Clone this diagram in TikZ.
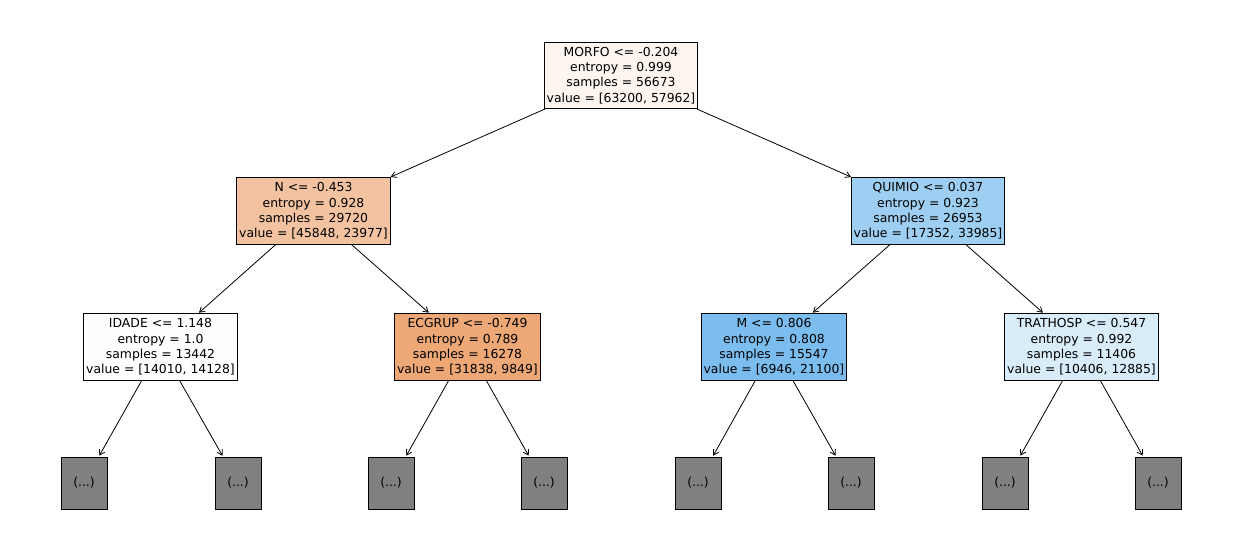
\documentclass[tikz,border=0pt]{standalone}
\usepackage{fontspec}
\setmainfont{DejaVu Sans}
\usetikzlibrary{arrows.meta}
\definecolor{cRoot}{RGB}{253,245,239}
\definecolor{cN}{RGB}{243,195,161}
\definecolor{cQ}{RGB}{158,207,242}
\definecolor{cI}{RGB}{253,254,255}
\definecolor{cE}{RGB}{237,168,118}
\definecolor{cM}{RGB}{122,189,238}
\definecolor{cT}{RGB}{217,236,250}
\definecolor{cLeaf}{RGB}{128,128,128}
\tikzset{
  tnode/.style={draw=black, line width=0.8pt, align=center, inner xsep=2.5pt, inner ysep=5pt,
    font=\fontsize{12.4}{15.2}\selectfont},
  leaf/.style={draw=black, line width=0.8pt, fill=cLeaf, minimum width=46pt, minimum height=52pt,
    inner sep=0pt, font=\fontsize{12.4}{15.2}\selectfont},
  edge/.style={draw=black, line width=0.8pt, -{Straight Barb[length=5pt,width=6pt]}, shorten >=1pt}
}
\begin{document}
\begin{tikzpicture}[x=1pt,y=-1pt]
\useasboundingbox (0,0) rectangle (1242,558);
\node[tnode, fill=cRoot] (root) at (621,75.5) {MORFO <= -0.204\\entropy = 0.999\\samples = 56673\\value = [63200, 57962]};
\node[tnode, fill=cN] (n) at (313.5,211) {N <= -0.453\\entropy = 0.928\\samples = 29720\\value = [45848, 23977]};
\node[tnode, fill=cQ] (q) at (928,211) {QUIMIO <= 0.037\\entropy = 0.923\\samples = 26953\\value = [17352, 33985]};
\node[tnode, fill=cI] (i) at (160.5,347) {IDADE <= 1.148\\entropy = 1.0\\samples = 13442\\value = [14010, 14128]};
\node[tnode, fill=cE] (e) at (467.5,347) {ECGRUP <= -0.749\\entropy = 0.789\\samples = 16278\\value = [31838, 9849]};
\node[tnode, fill=cM] (m) at (774,347) {M <= 0.806\\entropy = 0.808\\samples = 15547\\value = [6946, 21100]};
\node[tnode, fill=cT] (t) at (1081.5,347) {TRATHOSP <= 0.547\\entropy = 0.992\\samples = 11406\\value = [10406, 12885]};
\node[leaf] (l1) at (84,483) {(...)};
\node[leaf] (l2) at (238,483) {(...)};
\node[leaf] (l3) at (391,483) {(...)};
\node[leaf] (l4) at (544,483) {(...)};
\node[leaf] (l5) at (698,483) {(...)};
\node[leaf] (l6) at (851,483) {(...)};
\node[leaf] (l7) at (1005,483) {(...)};
\node[leaf] (l8) at (1158,483) {(...)};
\draw[edge] (root) -- (n);
\draw[edge] (root) -- (q);
\draw[edge] (n) -- (i);
\draw[edge] (n) -- (e);
\draw[edge] (q) -- (m);
\draw[edge] (q) -- (t);
\draw[edge] (i) -- (l1);
\draw[edge] (i) -- (l2);
\draw[edge] (e) -- (l3);
\draw[edge] (e) -- (l4);
\draw[edge] (m) -- (l5);
\draw[edge] (m) -- (l6);
\draw[edge] (t) -- (l7);
\draw[edge] (t) -- (l8);
\end{tikzpicture}
\end{document}
